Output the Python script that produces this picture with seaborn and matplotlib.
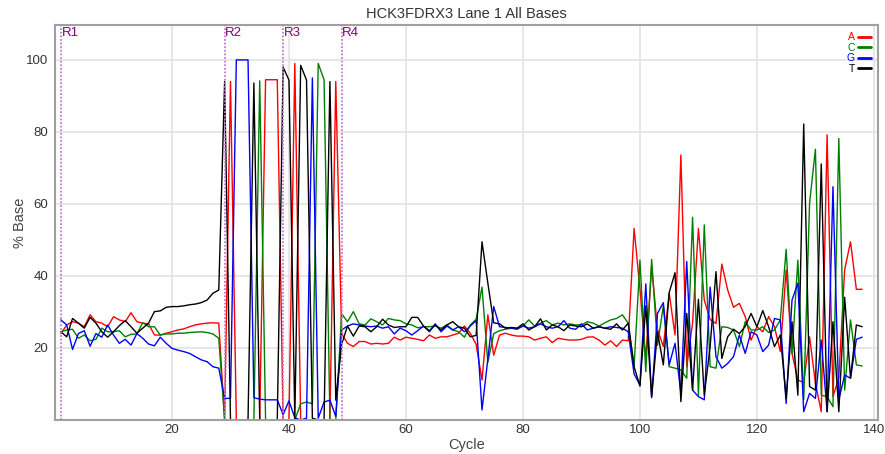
import numpy as np
import pandas as pd
import matplotlib
matplotlib.use("Agg")
import matplotlib.pyplot as plt
import seaborn as sns
from matplotlib import font_manager

# ---------------- data ----------------
cycles = list(range(1, 139))

A = [24, 26.4, 27.3, 26.9, 25.9, 29.2, 27.3, 26.9, 25.9, 28.7, 27.8, 27.3, 29.8, 27.3, 26.9, 26.7, 23.6, 23.6,
     24.1, 24.5, 25, 25.3, 25.9, 26.4, 26.7, 26.9, 27, 26.9,
     0, 94, 0, 0, 0, 0, 0, 94.5, 94.5, 94.5, 0, 0, 99, 0, 0, 0, 0, 0, 0, 94, 24,
     21.3, 20.4, 21.8, 21.8, 21.1, 21.3, 21.1, 21.3, 23, 22.2, 23, 22.7, 22.4, 22, 23.6, 22.7, 23.1, 23.1, 23.6,
     24.1, 26.1, 24.1, 21, 11.1, 29.2, 18, 23.6, 24.1, 23.6, 23.3, 23.3, 23.1, 22.2, 22.7, 23.1, 21.5, 22.7,
     22.4, 22.2, 22.2, 22.4, 23, 23.1, 22.2, 20.8, 22, 20.4, 22.2,
     22, 53.2, 36.5, 17, 42.6, 25.2, 20.4, 35.2, 23.6, 73.6, 14.8, 27, 53.2, 33.3, 27.9, 26.8, 43.3, 36.1, 31.3,
     32.4, 28.7, 22.2, 25.9, 24.5, 28.7, 25.9, 19, 41.7, 18.5, 11.1, 10.4, 23.1, 10.2, 2.3, 79.2, 6.5, 11.6,
     41.7, 49.5, 36.3, 36.3]

C = [24.5, 25, 25.2, 22.7, 23.6, 22, 22.4, 25.5, 24.5, 24.5, 24.8, 23.1, 23.8, 23.9, 27, 25.9, 25.9, 23.6,
     23.9, 23.9, 24.1, 24.1, 24.3, 24.4, 24.5, 24.3, 23.9, 22.7,
     0, 0, 0, 0, 0, 0, 94.2, 0, 0, 0, 0, 0, 0, 4.5, 5, 4.5, 99, 94.5, 0, 0, 29.5,
     27.3, 30.1, 26.7, 26.4, 28.1, 27.3, 26.4, 28.2, 27.8, 27.6, 26.7, 26.4, 25.6, 25.9, 25.9, 26.1, 25.5, 26.4,
     25, 24.5, 23, 26.4, 28, 36.9, 16, 24, 24.8, 25.2, 25.5, 25.5, 26.1, 27.8, 26.1, 26.9, 27.6, 26.4, 26.9,
     26.4, 26.7, 26.4, 26.4, 27.3, 26.9, 26.1, 27, 27.8, 28.2, 29.2,
     26.9, 14.8, 44.4, 13.4, 44.6, 20.7, 31.7, 14.8, 14.4, 13.9, 11.6, 56.3, 6.9, 54.2, 14.8, 14.4, 25.9, 25.7, 25,
     20.4, 27.3, 25, 25, 25.9, 24.3, 25, 27.8, 47.4, 18.5, 44.4, 5.6, 60.2, 75.2, 6.9, 6.5, 3.7, 78.2,
     8.3, 27.8, 15.3, 15]

G = [27.8, 26.4, 19.6, 24, 24.8, 20.5, 24, 23, 26.4, 23.6, 21.3, 22.4, 20.8, 24, 22.7, 21.1, 20.6, 23,
     21.3, 19.9, 19.4, 19, 18.5, 17.6, 16.7, 16.2, 14.8, 14.4,
     6, 6, 100, 100, 100, 6.2, 5.8, 5.6, 5.6, 5.6, 1.5, 5.3, 0.6, 0, 0.5, 95, 0.5, 5, 5.5, 1, 25,
     26.1, 26.7, 26.4, 26.1, 25.9, 26.1, 25.5, 25.9, 23.9, 25.5, 24.8, 23.6, 24.8, 26.1, 24.5, 26.7, 24.5, 26.1,
     25, 25.9, 24.5, 26.1, 27.6, 2.8, 17, 31.5, 25.9, 25.7, 25.5, 25.2, 26.1, 25.5, 25.9, 26.7, 25.9, 25.5,
     25.9, 27.6, 25.5, 25.2, 26.7, 25, 25.5, 25.9, 25.5, 25.9, 25.7, 25.5,
     24.5, 12.8, 9.7, 37.8, 6.2, 29.6, 32.6, 15.3, 21.3, 7.4, 44, 8.3, 6.5, 5.6, 36.9, 17.6, 14.4, 15.7, 17.6,
     23.6, 18.5, 24.5, 23.6, 19, 20.8, 28.2, 27.8, 4.6, 33.3, 38, 2.3, 7.4, 6, 22.2, 2.3, 64.8, 5.6,
     12.5, 11.6, 22.4, 23]

T = [24.5, 23.1, 28.2, 26.9, 25.5, 28.5, 26.9, 24.5, 23, 24.5, 26.2, 27.6, 25.9, 24.1, 25.5, 26.9, 30.1, 30.3,
     31.3, 31.5, 31.5, 31.7, 32, 32.2, 32.6, 33.3, 35.2, 36.1,
     94, 0, 0, 0, 0, 93.6, 0, 0, 0, 0, 98, 94.4, 0, 98.5, 94.4, 0.5, 0, 0, 94, 5.5, 21,
     26.1, 23.3, 26.1, 25.9, 24.5, 25.9, 28, 26.4, 25.7, 25.9, 25.9, 28.5, 28.5, 26.1, 24.8, 26.4, 25, 26.4,
     27.3, 25.9, 25.5, 23.1, 23.5, 49.5, 38, 27, 26.7, 25.5, 25.7, 25.5, 26.7, 25, 25.9, 28.1, 25, 26.4,
     25.9, 24.8, 26.4, 26.1, 25.9, 26.7, 25.5, 25.9, 25.5, 25.2, 26.7, 25,
     26.9, 14.8, 9.4, 31.7, 6.5, 24.5, 15.3, 35.4, 40.9, 5.1, 29.6, 8.3, 33.5, 6.9, 20.4, 41.2, 17.1, 23.1, 25.2,
     24, 26, 29.6, 25.9, 30.4, 25.9, 20.4, 23.6, 6, 27.3, 6.9, 82.2, 9.3, 8.3, 71.1, 2.3, 27.3, 2.3,
     34.1, 11.6, 26.4, 25.9]

bases = ["A", "C", "G", "T"]
base_colors = ["#ff0000", "#008000", "#0000ff", "#000000"]
region_labels = ["R1", "R2", "R3", "R4"]
region_cycles = [1, 29, 39, 49]
title = "HCK3FDRX3 Lane 1 All Bases"

# ---------------- style ----------------
sns.set_style("white")
names = {f.name for f in font_manager.fontManager.ttflist}
fam = "Liberation Sans Narrow" if "Liberation Sans Narrow" in names else "Liberation Sans"
narrow = fam == "Liberation Sans Narrow"
plt.rcParams["font.family"] = [fam, "DejaVu Sans"]
fs_tick = 11 if narrow else 9.5
fs_lab = 12 if narrow else 10.5
fs_title = 12 if narrow else 10.5

df = pd.DataFrame({
    "Cycle": cycles * 4,
    "Base": sum([[b] * len(cycles) for b in bases], []),
    "Pct": A + C + G + T,
})

fig = plt.figure(figsize=(8.85, 4.54), dpi=100)
ax = fig.add_axes([55 / 885, 34 / 454, 823 / 885, 395 / 454])

sns.lineplot(data=df, x="Cycle", y="Pct", hue="Base", hue_order=bases,
             palette=dict(zip(bases, base_colors)), linewidth=1.0, ax=ax,
             estimator=None, sort=False)

ax.set_xlim(0, 140.7)
ax.set_ylim(0, 109.7)
ax.set_xticks([20, 40, 60, 80, 100, 120, 140])
ax.set_yticks([20, 40, 60, 80, 100])
ax.grid(True, color="#e3e3e3", linewidth=1.2)
ax.set_axisbelow(True)
for s in ax.spines.values():
    s.set_color("#a0a0a0")
    s.set_linewidth(1.5)
ax.tick_params(axis="x", direction="in", length=4, color="#a0a0a0", labelsize=fs_tick,
               labelcolor="#333333", pad=3)
ax.tick_params(axis="y", length=0, labelsize=fs_tick, labelcolor="#333333", pad=5)
ax.set_xlabel("Cycle", fontsize=fs_lab, color="#444444", labelpad=1)
ax.set_ylabel("% Base", fontsize=fs_lab, color="#444444", labelpad=-1)
ax.set_title(title, fontsize=fs_title, color="#333333", pad=5)

for lab, c in zip(region_labels, region_cycles):
    ax.axvline(c, color="#c27ad0", linestyle=(0, (1, 1)), linewidth=1.3, zorder=3)
    ax.annotate(lab, xy=(c, 1), xycoords=("data", "axes fraction"),
                xytext=(0.5, -1.5), textcoords="offset points",
                ha="left", va="top", color="#800080", fontsize=fs_tick)

leg = ax.legend(loc="upper right", markerfirst=False, frameon=False, fontsize=7.5,
                handlelength=1.2, handletextpad=0.3, labelspacing=0.05,
                borderaxespad=0.3, labelcolor="linecolor")
for h in leg.get_lines():
    h.set_linewidth(2)

fig.savefig("out.png", dpi=100)
